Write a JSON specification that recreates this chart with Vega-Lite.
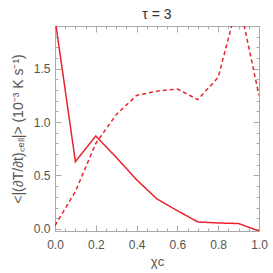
{
  "$schema": "https://vega.github.io/schema/vega-lite/v6.json",
  "width": 204,
  "height": 205,
  "autosize": {"type": "none"},
  "padding": {"left": 55, "top": 26, "right": 14, "bottom": 42},
  "background": "white",
  "title": {"text": "τ  =  3", "font": "Liberation Sans", "fontSize": 14, "fontWeight": "normal", "color": "#333", "offset": -25},
  "config": {
    "view": {"stroke": "#aaa", "strokeWidth": 1},
    "axis": {"labelFont": "Liberation Sans", "titleFont": "Liberation Sans", "labelColor": "#555", "titleColor": "#555", "domainColor": "#aaa", "tickColor": "#aaa", "grid": false, "titleFontWeight": "normal"}
  },
  "data": {"values": [
    {"chi": 0.0, "v": 1.97, "s": "a"},
    {"chi": 0.1, "v": 0.63, "s": "a"},
    {"chi": 0.2, "v": 0.87, "s": "a"},
    {"chi": 0.3, "v": 0.67, "s": "a"},
    {"chi": 0.4, "v": 0.46, "s": "a"},
    {"chi": 0.5, "v": 0.28, "s": "a"},
    {"chi": 0.6, "v": 0.17, "s": "a"},
    {"chi": 0.7, "v": 0.065, "s": "a"},
    {"chi": 0.8, "v": 0.055, "s": "a"},
    {"chi": 0.9, "v": 0.05, "s": "a"},
    {"chi": 1.0, "v": -0.02, "s": "a"},
    {"chi": 0.0, "v": 0.03, "s": "b"},
    {"chi": 0.1, "v": 0.35, "s": "b"},
    {"chi": 0.2, "v": 0.8, "s": "b"},
    {"chi": 0.3, "v": 1.07, "s": "b"},
    {"chi": 0.4, "v": 1.25, "s": "b"},
    {"chi": 0.5, "v": 1.29, "s": "b"},
    {"chi": 0.6, "v": 1.31, "s": "b"},
    {"chi": 0.7, "v": 1.21, "s": "b"},
    {"chi": 0.8, "v": 1.42, "s": "b"},
    {"chi": 0.9, "v": 2.15, "s": "b"},
    {"chi": 1.0, "v": 1.25, "s": "b"}
  ]},
  "resolve": {"axis": {"x": "independent", "y": "independent"}},
  "layer": [
    {
      "mark": {"type": "line", "clip": true, "color": "#e8232d", "strokeWidth": 1.5},
      "encoding": {
        "x": {"field": "chi", "type": "quantitative", "scale": {"domain": [0, 1], "nice": false, "zero": false},
          "axis": {"orient": "bottom", "title": "χc", "titleFontSize": 13, "titlePadding": 5, "values": [0,0.05,0.1,0.15,0.2,0.25,0.3,0.35,0.4,0.45,0.5,0.55,0.6,0.65,0.7,0.75,0.8,0.85,0.9,0.95,1.0],
            "labelExpr": "abs(datum.value*5 - round(datum.value*5)) < 0.001 ? format(datum.value, '.1f') : ''",
            "tickSize": {"condition": {"test": "abs(datum.value*5 - round(datum.value*5)) < 0.001", "value": -6}, "value": -3},
            "labelFontSize": 12, "labelPadding": 14, "labelFlush": false}},
        "y": {"field": "v", "type": "quantitative", "scale": {"domain": [-0.02, 1.9], "nice": false, "zero": false},
          "axis": {"orient": "left", "title": "<|(∂T/∂t)꜀ₑₗₗ|> (10⁻³ K s⁻¹)", "titleFontSize": 14, "titlePadding": 8, "values": [0,0.1,0.2,0.3,0.4,0.5,0.6,0.7,0.8,0.9,1.0,1.1,1.2,1.3,1.4,1.5,1.6,1.7,1.8],
            "labelExpr": "abs(datum.value*2 - round(datum.value*2)) < 0.001 ? format(datum.value, '.1f') : ''",
            "tickSize": {"condition": {"test": "abs(datum.value*2 - round(datum.value*2)) < 0.001", "value": -6}, "value": -3},
            "labelFontSize": 12, "labelPadding": 11, "labelFlush": false}},
        "strokeDash": {"field": "s", "type": "nominal", "scale": {"domain": ["a", "b"], "range": [[1, 0], [4, 3]]}, "legend": null}
      }
    },
    {
      "mark": {"type": "point", "opacity": 0},
      "encoding": {
        "x": {"field": "chi", "type": "quantitative",
          "axis": {"orient": "top", "title": null, "labels": false, "values": [0,0.05,0.1,0.15,0.2,0.25,0.3,0.35,0.4,0.45,0.5,0.55,0.6,0.65,0.7,0.75,0.8,0.85,0.9,0.95,1.0],
            "tickSize": {"condition": {"test": "abs(datum.value*5 - round(datum.value*5)) < 0.001", "value": -6}, "value": -3}}},
        "y": {"field": "v", "type": "quantitative",
          "axis": {"orient": "right", "title": null, "labels": false, "values": [0,0.1,0.2,0.3,0.4,0.5,0.6,0.7,0.8,0.9,1.0,1.1,1.2,1.3,1.4,1.5,1.6,1.7,1.8],
            "tickSize": {"condition": {"test": "abs(datum.value*2 - round(datum.value*2)) < 0.001", "value": -6}, "value": -3}}}
      }
    }
  ]
}
